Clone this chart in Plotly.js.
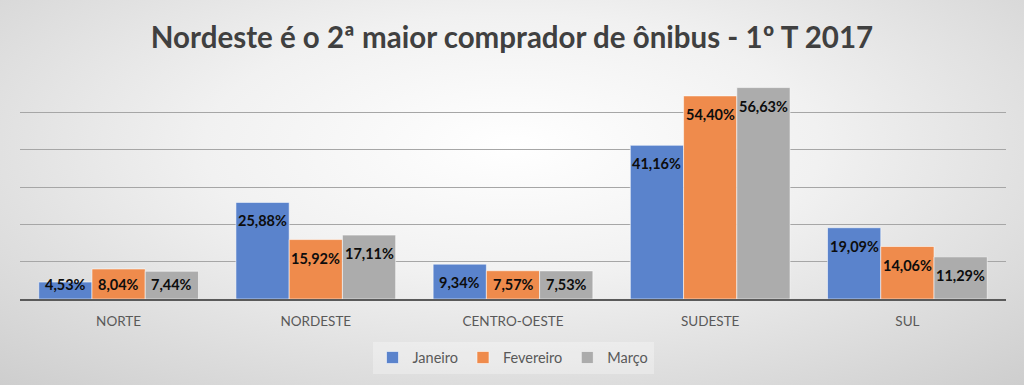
<!DOCTYPE html>
<html><head><meta charset="utf-8">
<script src="https://cdn.plot.ly/plotly-3.0.1.min.js"></script>
<style>
html,body{margin:0;padding:0;}
#chart{width:1024px;height:385px;background:radial-gradient(ellipse 75% 85% at 50% 38%, #ffffff 0%, #f1f1f1 40%, #d9d9d9 80%, #cdcdcd 100%);}
</style></head><body>
<div id="chart"></div>
<script>
const categories = ["NORTE","NORDESTE","CENTRO-OESTE","SUDESTE","SUL"];
const janeiro = [4.53, 25.88, 9.34, 41.16, 19.09];
const fevereiro = [8.04, 15.92, 7.57, 54.40, 14.06];
const marco = [7.44, 17.11, 7.53, 56.63, 11.29];
const seriesNames = ["Janeiro","Fevereiro","Março"];
const colors = ["#5a83cc","#ef8b4c","#acacac"];
const fmt = v => v.toFixed(2).replace('.', ',') + '%';
const FONT = 'Lato, "Open Sans", sans-serif';
const allSeries = [janeiro, fevereiro, marco];
const yMax = 60, bargap = 0.19;
const margin = {l: 20, r: 18, t: 75, b: 83.5};
const H = 385;
const pxPerUnit = (H - margin.t - margin.b) / yMax;
const labelPad = 18.5, bottomPad = 14.5;

const data = allSeries.map((vals, i) => ({
  type: 'bar', x: categories, y: vals, name: seriesNames[i],
  marker: {color: colors[i], line: {color: 'rgba(255,255,255,0.55)', width: 1}},
  hoverinfo: 'none'
}));

// data labels: inside end of each bar, kept above the plot bottom
const w = (1 - bargap) / allSeries.length;
const annotations = [];
allSeries.forEach((vals, i) => {
  vals.forEach((v, j) => {
    const inside = v * pxPerUnit >= labelPad + bottomPad;
    annotations.push({
      xref: 'x', yref: 'y', x: j + (i - (allSeries.length - 1) / 2) * w,
      y: inside ? v : 0, yshift: inside ? -labelPad : bottomPad,
      text: '<b>' + fmt(v) + '</b>', showarrow: false, xanchor: 'center', yanchor: 'middle',
      font: {family: FONT, size: 14.5, color: '#0d0d0d'}
    });
  });
});

const layout = {
  width: 1024, height: H,
  paper_bgcolor: 'rgba(0,0,0,0)', plot_bgcolor: 'rgba(0,0,0,0)',
  margin: margin,
  title: {text: '<b>Nordeste é o 2ª maior comprador de ônibus - 1º T 2017</b>', x: 0.5, xanchor: 'center', y: 0.903, yanchor: 'middle',
    font: {family: FONT, size: 29.5, color: '#404040'}},
  barmode: 'group', bargap: bargap, bargroupgap: 0,
  xaxis: {showgrid: false, showline: true, linecolor: '#5a5a5a', linewidth: 2, ticks: '', ticklabelstandoff: 9,
    tickfont: {family: FONT, size: 13.5, color: '#595959'}, fixedrange: true},
  yaxis: {range: [0, yMax], dtick: 10, showticklabels: false, showgrid: true, gridcolor: '#a6a6a6', gridwidth: 1, zeroline: false, fixedrange: true},
  annotations: annotations,
  showlegend: true,
  legend: {orientation: 'h', x: 0.5, xanchor: 'center', y: -0.19, yanchor: 'top',
    bgcolor: 'rgba(255,255,255,0.3)', font: {family: FONT, size: 14.5, color: '#595959'}, itemwidth: 30},
  font: {family: FONT}
};
Plotly.newPlot('chart', data, layout, {displayModeBar: false, staticPlot: true});
</script>
</body></html>
